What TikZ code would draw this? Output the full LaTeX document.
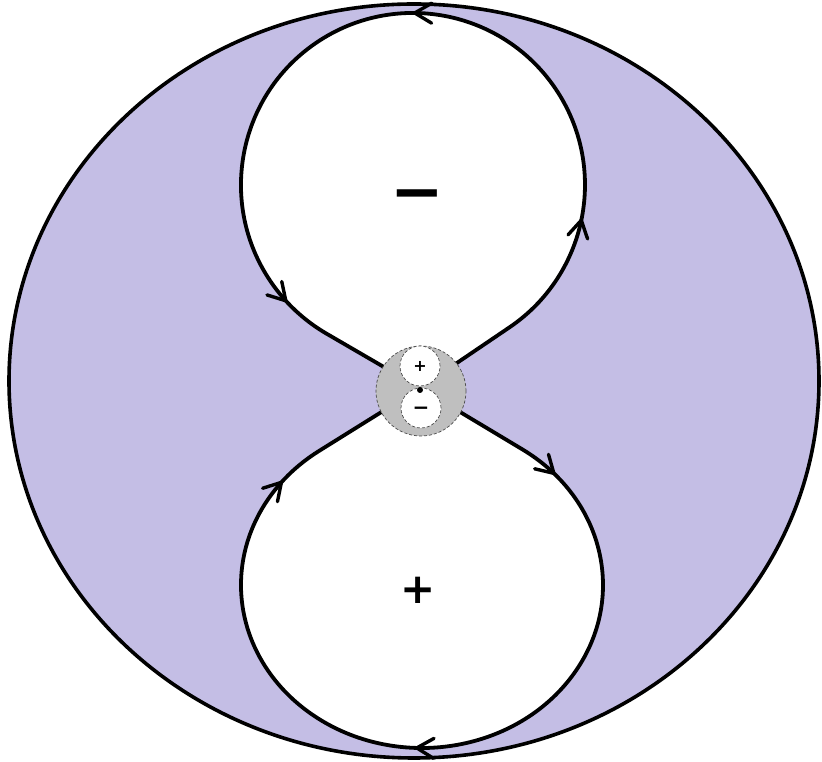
\documentclass[tikz,border=0pt]{standalone}
\usepackage{fontspec}
\setmainfont{DejaVu Sans}
\usetikzlibrary{decorations.markings}
\definecolor{lav}{HTML}{C4BEE5}
\definecolor{grayfill}{HTML}{BFBFBF}
\begin{document}
\begin{tikzpicture}[x=1pt,y=1pt,
  curve/.style={line width=3.8pt, line join=round},
  vhead/.style={line width=3.4pt, line cap=round, line join=miter},
  sign/.style={inner sep=0pt, font=\bfseries},
  smallcirc/.style={draw=gray!60!black, densely dashed, line width=0.7pt}]
\newcommand{\vtip}{\draw[vhead] (-17pt,10pt) -- (0pt,0pt) -- (-17pt,-10pt);}
\useasboundingbox (0,0) rectangle (822,762);
% outer ellipse
\coordinate (E) at (414,381);
\filldraw[fill=lav, draw=black, line width=3.6pt] (E) ellipse[x radius=405, y radius=377];
% key points
\coordinate (C) at (420,374);
\coordinate (O1) at (413,577);
\coordinate (T1) at (326.7,428.2);
\coordinate (T2) at (509.4,434.6);
\coordinate (O2) at (422,177);
\coordinate (B1) at (522.4,312.6);
\coordinate (B2) at (318.9,311.0);
% white lobes
\fill[white] (O1) circle[radius=172];
\fill[white] (C) -- (T1) -- (O1) -- (T2) -- cycle;
\fill[white] (O2) ellipse[x radius=181, y radius=163];
\fill[white] (C) -- (B1) -- (O2) -- (B2) -- cycle;
% top lobe curve
\draw[curve, postaction={decorate}, decoration={markings,
    mark=at position 240pt with {\vtip},
    mark=at position 544pt with {\vtip},
    mark=at position 943pt with {\vtip}}]
  (C) -- (T2) arc[start angle=304.1, end angle=599.9, radius=172] -- (C);
% bottom lobe curve
\draw[curve, postaction={decorate}, decoration={markings,
    mark=at position 159pt with {\vtip},
    mark=at position 560pt with {\vtip},
    mark=at position 938pt with {\vtip}}]
  (C) -- (B1) arc[start angle=56.3, end angle=-235.3, x radius=181, y radius=163] -- (C);
% big signs
\node[sign, font=\bfseries\fontsize{64}{64}\selectfont] (minus) at (417,569) {\vphantom{+}−};
\node[sign, font=\bfseries\fontsize{42}{42}\selectfont] (plus) at (418,172) {+};
% central small figure
\coordinate (G) at (421,371);
\coordinate (W1) at (420,396);
\coordinate (W2) at (421,354);
\coordinate (D) at (420,372);
\filldraw[smallcirc, fill=grayfill] (G) circle[radius=45];
\filldraw[smallcirc, fill=white] (W1) circle[radius=20];
\filldraw[smallcirc, fill=white] (W2) circle[radius=20];
\fill[black] (D) circle[radius=3];
\node[sign, font=\bfseries\fontsize{16}{16}\selectfont] (splus) at (W1) {+};
\node[sign, font=\bfseries\fontsize{20}{20}\selectfont] (sminus) at (W2) {\vphantom{+}−};
\end{tikzpicture}
\end{document}
